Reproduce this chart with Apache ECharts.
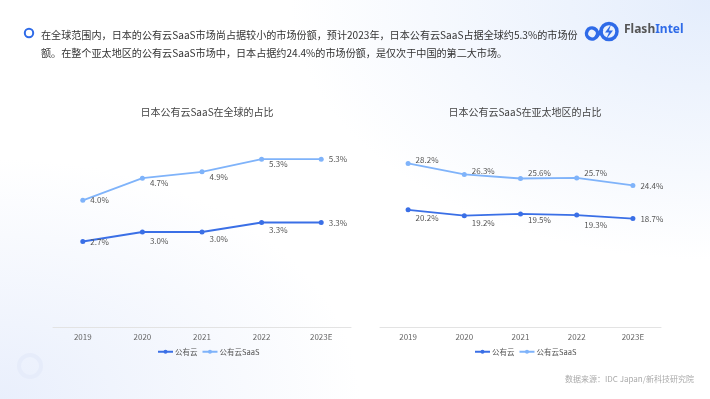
<!DOCTYPE html>
<html>
<head>
<meta charset="utf-8">
<script src="https://cdn.jsdelivr.net/npm/echarts@6/dist/echarts.min.js"></script>
<style>
  html, body { margin: 0; padding: 0; }
  #app {
    width: 710px;
    height: 399px;
    background:
      radial-gradient(ellipse 420px 260px at 100% 0%, #e4edfc, rgba(255,255,255,0) 100%),
      radial-gradient(ellipse 360px 240px at 0% 100%, #e9effc, rgba(255,255,255,0) 100%),
      #ffffff;
  }
</style>
</head>
<body>
<div id="app"></div>
<script>
const years = ['2019', '2020', '2021', '2022', '2023E']
const globalCloud = [2.7, 3.0, 3.0, 3.3, 3.3]
const globalSaaS = [4.0, 4.7, 4.9, 5.3, 5.3]
const apacCloud = [20.2, 19.2, 19.5, 19.3, 18.7]
const apacSaaS = [28.2, 26.3, 25.6, 25.7, 24.4]

const DARK = '#3a6fe6'
const LIGHT = '#7fb3fa'
const FONT = '"Noto Sans CJK SC", "Noto Sans", sans-serif'

// 标签的上下偏移
const labelDy = {
  gc: [0, 9, 7, 7, 0],
  gs: [0, 5, 5, 5, 0],
  ac: [8, 7, 6, 10, 0],
  as: [-3, -4, -6, -5, 0]
}

function makeSeries(name, vals, dy, color, idx) {
  return {
    type: 'line',
    name: name,
    xAxisIndex: idx,
    yAxisIndex: idx,
    data: vals.map((v, i) => ({ value: v, label: { offset: [0, dy[i]] } })),
    symbol: 'circle',
    symbolSize: 5,
    lineStyle: { color: color, width: 1.8 },
    itemStyle: { color: color },
    label: {
      show: true,
      position: 'right',
      distance: 5,
      fontSize: 8,
      color: '#555',
      fontFamily: FONT,
      formatter: p => p.value.toFixed(1) + '%'
    }
  }
}

function xAxis(idx) {
  return {
    type: 'category',
    gridIndex: idx,
    data: years,
    axisTick: { show: false },
    axisLine: { lineStyle: { color: '#e3e3e3' } },
    axisLabel: { color: '#666', fontSize: 8, margin: 6, fontFamily: FONT }
  }
}

function yAxis(idx, max) {
  return {
    type: 'value',
    gridIndex: idx,
    min: 0,
    max: max,
    show: false,
    splitLine: { show: false }
  }
}

function legend(left) {
  return {
    left: left,
    top: 348,
    padding: 0,
    itemWidth: 15,
    itemHeight: 5,
    itemGap: 4,
    textStyle: { color: '#555', fontSize: 7.5, fontFamily: FONT, padding: [0, 0, 0, -3] },
    data: [
      { name: '公有云', itemStyle: { color: DARK }, lineStyle: { color: DARK } },
      { name: '公有云SaaS', itemStyle: { color: LIGHT }, lineStyle: { color: LIGHT } }
    ]
  }
}

const echart = echarts.init(document.getElementById('app'))

echart.setOption({
  animation: false,
  backgroundColor: 'transparent',
  textStyle: { fontFamily: FONT },
  title: [
    {
      text: '日本公有云SaaS在全球的占比',
      left: 202,
      top: 102,
      textAlign: 'center',
      textStyle: { color: '#444', fontSize: 10, fontWeight: 'normal', fontFamily: FONT }
    },
    {
      text: '日本公有云SaaS在亚太地区的占比',
      left: 520,
      top: 102,
      textAlign: 'center',
      textStyle: { color: '#444', fontSize: 10, fontWeight: 'normal', fontFamily: FONT }
    }
  ],
  grid: [
    { left: 53, width: 298, top: 137, bottom: 72 },
    { left: 380, width: 281, top: 153, bottom: 72 }
  ],
  xAxis: [xAxis(0), xAxis(1)],
  yAxis: [yAxis(0, 6), yAxis(1, 30)],
  legend: [legend(157), legend(474)],
  series: [
    makeSeries('公有云', globalCloud, labelDy.gc, DARK, 0),
    makeSeries('公有云SaaS', globalSaaS, labelDy.gs, LIGHT, 0),
    makeSeries('公有云', apacCloud, labelDy.ac, DARK, 1),
    makeSeries('公有云SaaS', apacSaaS, labelDy.as, LIGHT, 1)
  ],
  graphic: [
    // 顶部说明
    {
      type: 'circle',
      shape: { cx: 29, cy: 33, r: 4.2 },
      style: { fill: 'none', stroke: '#2f6be8', lineWidth: 2 }
    },
    {
      type: 'text',
      left: 41,
      top: 26,
      style: {
        text: '在全球范围内，日本的公有云SaaS市场尚占据较小的市场份额，预计2023年，日本公有云SaaS占据全球约5.3%的市场份\n额。在整个亚太地区的公有云SaaS市场中，日本占据约24.4%的市场份额，是仅次于中国的第二大市场。',
        fill: '#333',
        font: '10.1px ' + FONT,
        lineHeight: 18
      }
    },
    // logo
    {
      type: 'group',
      left: 584,
      top: 21,
      children: [
        {
          type: 'arc',
          shape: { cx: 7, cy: 12, r: 5.5, startAngle: -Math.PI * 0.35, endAngle: Math.PI * 1.75 },
          style: { fill: 'none', stroke: '#2f6be8', lineWidth: 3.5 }
        },
        {
          type: 'line',
          shape: { x1: 11, y1: 16, x2: 17, y2: 8 },
          style: { stroke: '#2f6be8', lineWidth: 3.5 }
        },
        {
          type: 'circle',
          shape: { cx: 24, cy: 10, r: 8 },
          style: { fill: 'none', stroke: '#2f6be8', lineWidth: 3.5 }
        },
        {
          type: 'polygon',
          shape: { points: [[26, 3], [20, 11], [24, 11], [21, 18], [28, 9], [24, 9]] },
          style: { fill: '#2f6be8' }
        }
      ]
    },
    {
      type: 'text',
      left: 624,
      top: 24,
      style: {
        text: '{a|Flash}{b|Intel}',
        rich: {
          a: { fill: '#555', font: 'bold 12px "Noto Sans", sans-serif' },
          b: { fill: '#2f6be8', font: 'bold 12px "Noto Sans", sans-serif' }
        }
      }
    },
    // 数据来源
    {
      type: 'text',
      left: 565,
      top: 375,
      style: {
        text: '数据来源：IDC Japan/新科技研究院',
        fill: '#aaa',
        font: '8px ' + FONT
      }
    },
    // 左下角装饰圆环
    {
      type: 'circle',
      shape: { cx: 30, cy: 366, r: 11 },
      style: { fill: 'none', stroke: '#e6ecfa', lineWidth: 4 }
    }
  ]
})
</script>
</body>
</html>
